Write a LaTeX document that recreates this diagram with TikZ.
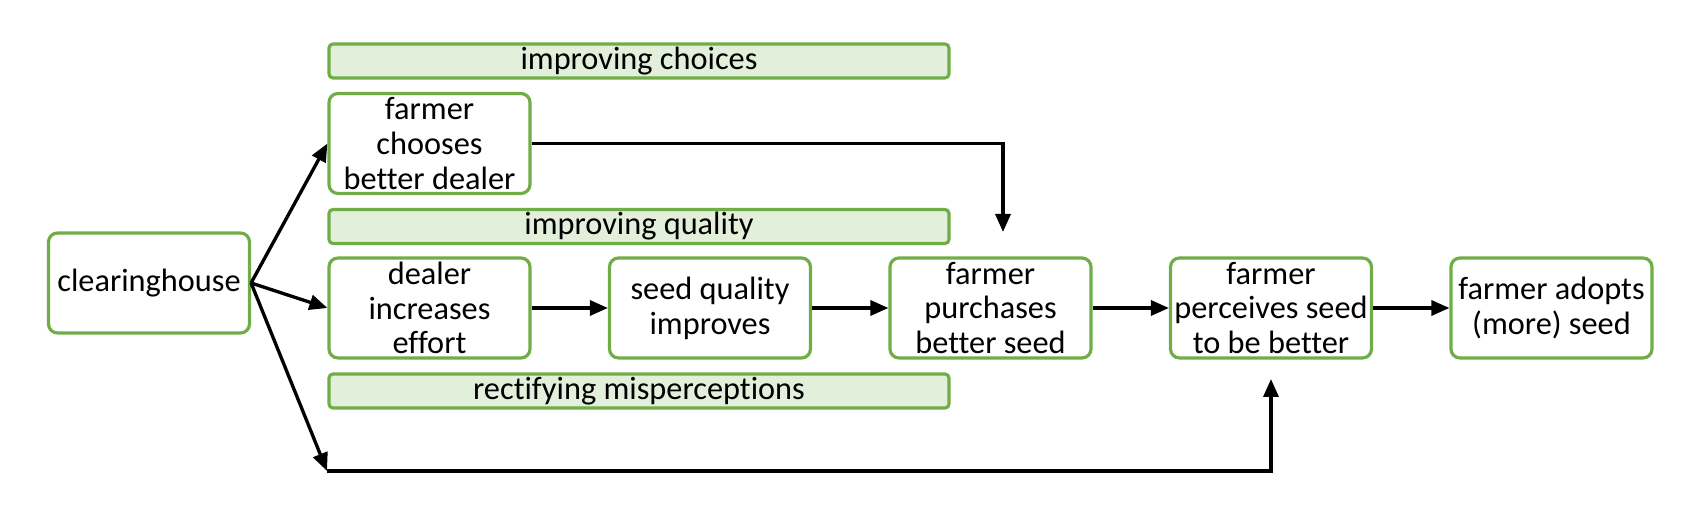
\documentclass[tikz,border=0pt]{standalone}
\usepackage{fontspec}
\setmainfont{Carlito}[Ligatures=NoCommon]
\usetikzlibrary{arrows.meta}
\definecolor{boxgreen}{RGB}{112,173,71}
\definecolor{bandgreen}{RGB}{226,239,218}
\tikzset{
  box/.style={draw=boxgreen, line width=.9pt, rounded corners=.09cm, minimum width=2.01cm, minimum height=1cm, inner sep=0pt, align=center, font=\fontsize{9.2}{9.9}\selectfont},
  band/.style={draw=boxgreen, fill=bandgreen, line width=.9pt, rounded corners=.04cm, minimum width=6.2cm, minimum height=.34cm, inner sep=0pt, font=\fontsize{9.2}{9.9}\selectfont},
  arr/.style={-{Triangle[length=.18cm,width=.15cm]}, line width=.95pt},
}
\begin{document}
\begin{tikzpicture}
\useasboundingbox (0,0) rectangle (16.99,-5.18);
\node[band] (choices) at (6.39,-.61) {improving choices};
\node[band] (quality) at (6.39,-2.265) {improving quality};
\node[band] (rectify) at (6.39,-3.91) {rectifying misperceptions};
\node[box] (ch) at (1.49,-2.83) {clearinghouse};
\node[box] (choose) at (4.295,-1.435) {farmer\\chooses\\better dealer};
\node[box] (dealer) at (4.295,-3.08) {dealer\\increases\\effort};
\node[box] (seed) at (7.10,-3.08) {seed quality\\improves};
\node[box] (buy) at (9.905,-3.08) {farmer\\purchases\\better seed};
\node[box] (perceive) at (12.71,-3.08) {farmer\\perceives seed\\to be better};
\node[box] (adopt) at (15.515,-3.08) {farmer adopts\\(more) seed};
\coordinate (corner) at (3.27,-4.71);
\coordinate (intobuy) at (10.03,-2.32);
\coordinate (intoperc) at (12.71,-3.79);
\draw[arr] (ch.east) -- (choose.west);
\draw[arr] (ch.east) -- (dealer.west);
\draw[arr] (ch.east) -- (corner);
\draw[arr] (corner) -| (intoperc);
\draw[arr] (choose.east) -| (intobuy);
\draw[arr] (dealer) -- (seed);
\draw[arr] (seed) -- (buy);
\draw[arr] (buy) -- (perceive);
\draw[arr] (perceive) -- (adopt);
\end{tikzpicture}
\end{document}
